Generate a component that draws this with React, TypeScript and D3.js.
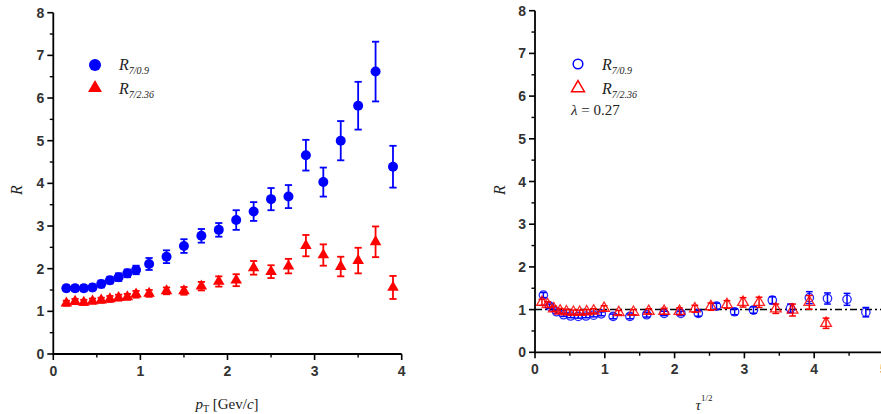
import React from "react";
import * as d3 from "d3";

// ---------- data ----------
const pT = [0.15, 0.25, 0.35, 0.45, 0.55, 0.65, 0.75, 0.85, 0.95, 1.1, 1.3, 1.5, 1.7, 1.9, 2.1, 2.3, 2.5, 2.7, 2.9, 3.1, 3.3, 3.5, 3.7, 3.9];
const leftBlue = [1.54, 1.54, 1.54, 1.56, 1.64, 1.73, 1.8, 1.89, 1.97, 2.11, 2.28, 2.53, 2.77, 2.91, 3.14, 3.34, 3.63, 3.69, 4.66, 4.03, 5.0, 5.82, 6.62, 4.39];
const leftBlueErr = [0.07, 0.07, 0.07, 0.07, 0.08, 0.08, 0.09, 0.09, 0.1, 0.14, 0.15, 0.16, 0.16, 0.16, 0.23, 0.22, 0.26, 0.27, 0.36, 0.34, 0.46, 0.56, 0.7, 0.49];
const leftRed = [1.19, 1.23, 1.21, 1.24, 1.26, 1.29, 1.32, 1.34, 1.4, 1.42, 1.48, 1.48, 1.59, 1.7, 1.73, 2.02, 1.93, 2.06, 2.54, 2.32, 2.05, 2.19, 2.63, 1.56];
const leftRedErr = [0.06, 0.06, 0.06, 0.06, 0.06, 0.07, 0.07, 0.07, 0.08, 0.08, 0.08, 0.09, 0.1, 0.12, 0.14, 0.16, 0.15, 0.17, 0.25, 0.25, 0.23, 0.3, 0.36, 0.27];

const rightBlueX = [0.12, 0.21, 0.31, 0.41, 0.51, 0.62, 0.73, 0.84, 0.95, 1.12, 1.36, 1.6, 1.85, 2.09, 2.34, 2.6, 2.86, 3.13, 3.4, 3.66, 3.93, 4.19, 4.47, 4.74];
const rightBlueY = [1.34, 1.08, 0.95, 0.88, 0.85, 0.84, 0.85, 0.87, 0.9, 0.84, 0.84, 0.88, 0.91, 0.91, 0.91, 1.08, 0.95, 0.99, 1.22, 1.03, 1.28, 1.26, 1.24, 0.94];
const rightBlueErr = [0.06, 0.05, 0.04, 0.04, 0.04, 0.04, 0.04, 0.04, 0.045, 0.055, 0.055, 0.055, 0.05, 0.05, 0.065, 0.07, 0.07, 0.075, 0.08, 0.1, 0.14, 0.13, 0.14, 0.11];
const rightRedX = [0.1, 0.18, 0.27, 0.36, 0.45, 0.55, 0.64, 0.74, 0.84, 0.99, 1.2, 1.41, 1.63, 1.85, 2.07, 2.29, 2.52, 2.75, 2.98, 3.21, 3.45, 3.69, 3.93, 4.17];
const rightRedY = [1.17, 1.12, 1.02, 0.97, 0.95, 0.94, 0.94, 0.95, 0.97, 1.03, 0.93, 0.94, 0.96, 0.96, 0.96, 1.02, 1.07, 1.12, 1.17, 1.17, 1.02, 0.99, 1.17, 0.68];
const rightRedErr = [0.07, 0.065, 0.06, 0.055, 0.055, 0.05, 0.05, 0.05, 0.05, 0.06, 0.05, 0.06, 0.06, 0.07, 0.08, 0.08, 0.085, 0.09, 0.11, 0.12, 0.11, 0.14, 0.16, 0.12];

const yTicks = [0, 1, 2, 3, 4, 5, 6, 7, 8];
const yMinor = [0.5, 1.5, 2.5, 3.5, 4.5, 5.5, 6.5, 7.5];
const leftXTicks = [0, 1, 2, 3, 4];
const leftXMinor = [0.5, 1.5, 2.5, 3.5];
const rightXTicks = [0, 1, 2, 3, 4, 5];
const rightXMinor = [0.5, 1.5, 2.5, 3.5, 4.5];
const refLine = [1];

const BLUE = "#0000ff";
const RED = "#ff0000";
const TICK_FONT = "'Liberation Sans', Arial, sans-serif";
const SERIF = "'Liberation Serif', 'Times New Roman', serif";

type Sc = d3.ScaleLinear<number, number>;

function Axes({ x, y, xTicks, xMinor, xEnd }: { x: Sc; y: Sc; xTicks: number[]; xMinor: number[]; xEnd: number }) {
  const x0 = x(0);
  const y0 = y(0);
  return (
    <g>
      <line x1={x0} x2={xEnd} y1={y0} y2={y0} stroke="#000" strokeWidth={1.8} />
      <line x1={x0} x2={x0} y1={y0 + 0.9} y2={y(8)} stroke="#000" strokeWidth={1.8} />
      {yTicks.map((t) => (
        <g key={"yt" + t}>
          <line x1={x0 - 6} x2={x0} y1={y(t)} y2={y(t)} stroke="#000" strokeWidth={1.6} />
          <text x={x0 - 9} y={y(t)} dy="0.36em" textAnchor="end" fontFamily={TICK_FONT} fontWeight="bold" fontSize={14} fill="#333">{t}</text>
        </g>
      ))}
      {yMinor.map((t) => (
        <line key={"ym" + t} x1={x0 - 3.5} x2={x0} y1={y(t)} y2={y(t)} stroke="#000" strokeWidth={1.4} />
      ))}
      {xTicks.map((t) => (
        <g key={"xt" + t}>
          <line x1={x(t)} x2={x(t)} y1={y0} y2={y0 + 6} stroke="#000" strokeWidth={1.6} />
          <text x={x(t)} y={y0 + 22} textAnchor="middle" fontFamily={TICK_FONT} fontWeight="bold" fontSize={14} fill="#333">{t}</text>
        </g>
      ))}
      {xMinor.map((t) => (
        <line key={"xm" + t} x1={x(t)} x2={x(t)} y1={y0} y2={y0 + 3.5} stroke="#000" strokeWidth={1.4} />
      ))}
    </g>
  );
}

function ErrBar({ cx, yTop, yBot, color, w, cap }: { cx: number; yTop: number; yBot: number; color: string; w: number; cap: number }) {
  return (
    <g stroke={color} strokeWidth={w}>
      <line x1={cx} x2={cx} y1={yTop} y2={yBot} />
      <line x1={cx - cap} x2={cx + cap} y1={yTop} y2={yTop} />
      <line x1={cx - cap} x2={cx + cap} y1={yBot} y2={yBot} />
    </g>
  );
}

export default function App() {
  const xL = d3.scaleLinear().domain([0, 4]).range([53.3, 401.7]);
  const yL = d3.scaleLinear().domain([0, 8]).range([354, 12.7]);
  const xR = d3.scaleLinear().domain([0, 5]).range([535, 884]);
  const yR = d3.scaleLinear().domain([0, 8]).range([352.3, 10.7]);

  const triSmall = d3.symbol(d3.symbolTriangle, 58)()!;
  const triLegend = d3.symbol(d3.symbolTriangle, 85)()!;
  const triOpen = d3.symbol(d3.symbolTriangle, 50)()!;
  const triOpenLegend = d3.symbol(d3.symbolTriangle, 72)()!;

  return (
    <svg width={881} height={414} style={{ position: "absolute", left: 0, top: 0, background: "#fff" }}>
      {/* ---------------- LEFT PANEL ---------------- */}
      <Axes x={xL} y={yL} xTicks={leftXTicks} xMinor={leftXMinor} xEnd={xL(4)} />
      {pT.map((p, i) => (
        <ErrBar key={"lbe" + i} cx={xL(p)} yTop={yL(leftBlue[i] + leftBlueErr[i])} yBot={yL(leftBlue[i] - leftBlueErr[i])} color={BLUE} w={1.8} cap={3.6} />
      ))}
      {pT.map((p, i) => (
        <circle key={"lb" + i} cx={xL(p)} cy={yL(leftBlue[i])} r={5} fill={BLUE} />
      ))}
      {pT.map((p, i) => (
        <ErrBar key={"lre" + i} cx={xL(p)} yTop={yL(leftRed[i] + leftRedErr[i])} yBot={yL(leftRed[i] - leftRedErr[i])} color={RED} w={1.8} cap={3.6} />
      ))}
      {pT.map((p, i) => (
        <path key={"lr" + i} d={triSmall} transform={`translate(${xL(p)},${yL(leftRed[i])})`} fill={RED} />
      ))}

      {/* left legend */}
      <circle cx={95} cy={65} r={6} fill={BLUE} />
      <text x={119} y={70} fontFamily={SERIF} fontStyle="italic" fontSize={16} fill="#222">
        R<tspan fontSize={10} dy={4}>7/0.9</tspan>
      </text>
      <path d={triLegend} transform="translate(95,88)" fill={RED} />
      <text x={119} y={94} fontFamily={SERIF} fontStyle="italic" fontSize={16} fill="#222">
        R<tspan fontSize={10} dy={4}>7/2.36</tspan>
      </text>

      {/* left axis titles */}
      <text transform="translate(22,190) rotate(-90)" textAnchor="middle" fontFamily={SERIF} fontStyle="italic" fontSize={16} fill="#222">R</text>
      <text x={227} y={409} textAnchor="middle" fontFamily={SERIF} fontSize={15} fill="#222">
        <tspan fontStyle="italic">p</tspan>
        <tspan fontSize={10} dy={3}>T</tspan>
        <tspan dy={-3}> [Gev/</tspan>
        <tspan fontStyle="italic">c</tspan>
        <tspan>]</tspan>
      </text>

      {/* ---------------- RIGHT PANEL ---------------- */}
      <Axes x={xR} y={yR} xTicks={rightXTicks} xMinor={rightXMinor} xEnd={881} />
      {refLine.map((v) => (
        <line key={"ref" + v} x1={xR(0)} x2={881} y1={yR(v)} y2={yR(v)} stroke="#000" strokeWidth={1.5} strokeDasharray="7,3,2,3" />
      ))}
      {rightBlueX.map((xv, i) => (
        <ErrBar key={"rbe" + i} cx={xR(xv)} yTop={yR(rightBlueY[i] + rightBlueErr[i])} yBot={yR(rightBlueY[i] - rightBlueErr[i])} color={BLUE} w={1.5} cap={3.4} />
      ))}
      {rightBlueX.map((xv, i) => (
        <circle key={"rb" + i} cx={xR(xv)} cy={yR(rightBlueY[i])} r={4.2} fill="none" stroke={BLUE} strokeWidth={1.3} opacity={0.85} />
      ))}
      {rightRedX.map((xv, i) => (
        <ErrBar key={"rre" + i} cx={xR(xv)} yTop={yR(rightRedY[i] + rightRedErr[i])} yBot={yR(rightRedY[i] - rightRedErr[i])} color={RED} w={1.5} cap={3.4} />
      ))}
      {rightRedX.map((xv, i) => (
        <path key={"rr" + i} d={triOpen} transform={`translate(${xR(xv)},${yR(rightRedY[i])})`} fill="none" stroke={RED} strokeWidth={1.3} opacity={0.85} />
      ))}

      {/* right legend */}
      <circle cx={578} cy={64} r={4.8} fill="none" stroke={BLUE} strokeWidth={1.5} />
      <text x={602} y={70} fontFamily={SERIF} fontStyle="italic" fontSize={16} fill="#222">
        R<tspan fontSize={10} dy={4}>7/0.9</tspan>
      </text>
      <path d={triOpenLegend} transform="translate(578,88)" fill="none" stroke={RED} strokeWidth={1.5} />
      <text x={602} y={94} fontFamily={SERIF} fontStyle="italic" fontSize={16} fill="#222">
        R<tspan fontSize={10} dy={4}>7/2.36</tspan>
      </text>
      <text x={571} y={115} fontFamily={SERIF} fontSize={15} fill="#222">
        <tspan fontStyle="italic">λ</tspan> = 0.27
      </text>

      {/* right axis titles */}
      <text transform="translate(505,190) rotate(-90)" textAnchor="middle" fontFamily={SERIF} fontStyle="italic" fontSize={16} fill="#222">R</text>
      <text x={704} y={410} textAnchor="middle" fontFamily={SERIF} fontSize={15} fill="#222">
        <tspan fontStyle="italic">τ</tspan>
        <tspan fontSize={9} dy={-9}>1/2</tspan>
      </text>
    </svg>
  );
}
